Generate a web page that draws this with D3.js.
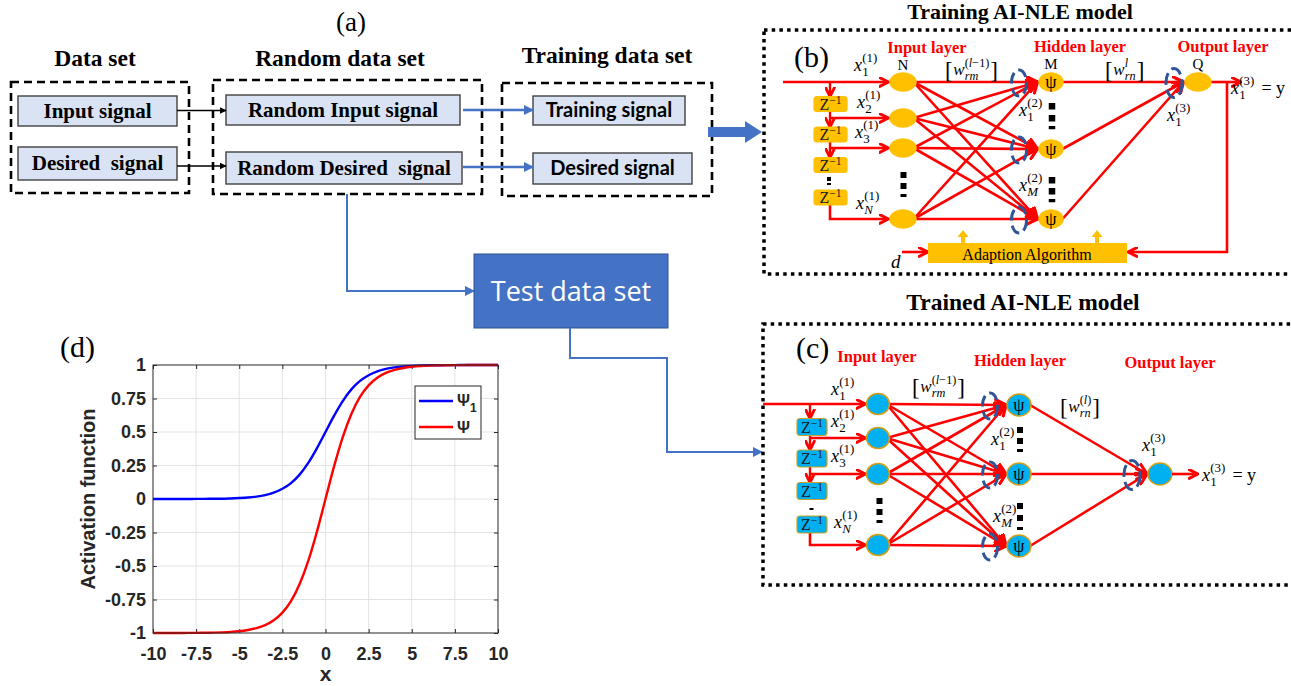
<!DOCTYPE html>
<html>
<head>
<meta charset="utf-8">
<script src="https://cdn.jsdelivr.net/npm/d3@7"></script>
<style>
  body { margin: 0; background: #fff; }
  svg { display: block; }
</style>
</head>
<body>
<script>
// ---- Activation curves, sampled every 0.5 along x ----
const xSamples = [-10, -9.5, -9, -8.5, -8, -7.5, -7, -6.5, -6, -5.5, -5, -4.5, -4, -3.5, -3, -2.5, -2, -1.5, -1, -0.5,
                  0, 0.5, 1, 1.5, 2, 2.5, 3, 3.5, 4, 4.5, 5, 5.5, 6, 6.5, 7, 7.5, 8, 8.5, 9, 9.5, 10];
const psi1Values = [0.000, 0.000, 0.000, 0.000, 0.000, 0.001, 0.001, 0.002, 0.002, 0.004, 0.007, 0.011, 0.018, 0.029, 0.047,
                    0.076, 0.119, 0.182, 0.269, 0.378, 0.500, 0.622, 0.731, 0.818, 0.881, 0.924, 0.953, 0.971, 0.982, 0.989,
                    0.993, 0.996, 0.998, 0.998, 0.999, 0.999, 1.000, 1.000, 1.000, 1.000, 1.000];
const psiValues = [-1.000, -1.000, -1.000, -1.000, -0.999, -0.999, -0.998, -0.997, -0.995, -0.992, -0.987, -0.978, -0.964,
                   -0.941, -0.905, -0.848, -0.762, -0.635, -0.462, -0.245, 0.000, 0.245, 0.462, 0.635, 0.762, 0.848, 0.905,
                   0.941, 0.964, 0.978, 0.987, 0.992, 0.995, 0.997, 0.998, 0.999, 0.999, 1.000, 1.000, 1.000, 1.000];
const xTickValues = [-10, -7.5, -5, -2.5, 0, 2.5, 5, 7.5, 10];
const xTickLabels = ["-10", "-7.5", "-5", "-2.5", "0", "2.5", "5", "7.5", "10"];
const yTickValues = [-1, -0.75, -0.5, -0.25, 0, 0.25, 0.5, 0.75, 1];
const yTickLabels = ["-1", "-0.75", "-0.5", "-0.25", "0", "0.25", "0.5", "0.75", "1"];

const W = 1291, H = 686;
const RED = "#ff0000", ORANGE = "#ffc000", CYAN = "#00b0f0", NAVY = "#2f5597", BLUE = "#4472c4";
const SERIF = "'Liberation Serif','Times New Roman',serif";
const SANS = "'Liberation Sans',Arial,sans-serif";
const CAL = "Lato,'Open Sans',sans-serif";

const svg = d3.select("body").append("svg").attr("width", W).attr("height", H);
svg.append("rect").attr("width", W).attr("height", H).attr("fill", "#fff");
const defs = svg.append("defs");

function chevron(id, color, size, sw) {
  defs.append("marker").attr("id", id).attr("viewBox", "0 0 10 10").attr("refX", 9).attr("refY", 5)
    .attr("markerUnits", "userSpaceOnUse").attr("markerWidth", size).attr("markerHeight", size)
    .attr("orient", "auto")
    .append("path").attr("d", "M1,1 L9,5 L1,9").attr("fill", "none")
    .attr("stroke", color).attr("stroke-width", sw).attr("stroke-linecap", "round").attr("stroke-linejoin", "round");
}
function tri(id, color, size) {
  defs.append("marker").attr("id", id).attr("viewBox", "0 0 10 10").attr("refX", 9).attr("refY", 5)
    .attr("markerUnits", "userSpaceOnUse").attr("markerWidth", size).attr("markerHeight", size)
    .attr("orient", "auto")
    .append("path").attr("d", "M0,0 L10,5 L0,10 Z").attr("fill", color);
}
chevron("chevR", RED, 13, 2.4);
chevron("chevRs", RED, 11, 2.6);
tri("triK", "#000", 7);
tri("triB", BLUE, 10);

const lineGen = d3.line();
function path(g, pts, color, w, marker) {
  const p = g.append("path").attr("d", lineGen(pts)).attr("fill", "none")
    .attr("stroke", color).attr("stroke-width", w).attr("stroke-linejoin", "miter");
  if (marker) p.attr("marker-end", `url(#${marker})`);
  return p;
}
function text(g, x, y, str, size, o = {}) {
  return g.append("text").attr("x", x).attr("y", y).text(str)
    .attr("font-family", o.family || SERIF).attr("font-size", size)
    .attr("font-weight", o.weight || "normal").attr("font-style", o.style || "normal")
    .attr("fill", o.fill || "#000").attr("text-anchor", o.anchor || "start")
    .style("white-space", "pre");
}
// Text where *...* marks italic runs
function rich(g, x, y, str, size) {
  const t = g.append("text").attr("x", x).attr("y", y).attr("font-family", SERIF).attr("font-size", size);
  str.split("*").forEach((s, i) => {
    if (s) t.append("tspan").attr("font-style", i % 2 ? "italic" : "normal").text(s);
  });
  return t;
}
// Symbol with stacked subscript / superscript, optionally bracketed
function sym(g, x, y, o) {
  const s = o.size || 18, small = s * 0.72;
  let cx = x;
  if (o.bracket) {
    const b = text(g, cx, y + 3, "[", s * 1.35, {});
    cx += b.node().getComputedTextLength() + 0.5;
  }
  const base = text(g, cx, y, o.base, s, { style: "italic" });
  cx += base.node().getComputedTextLength() + 0.3;
  let w = 0;
  if (o.sub) { const t = rich(g, cx, y + s * 0.3, o.sub, small); w = Math.max(w, t.node().getComputedTextLength()); }
  if (o.sup) { const t = rich(g, cx, y - s * 0.5, o.sup, small); w = Math.max(w, t.node().getComputedTextLength()); }
  cx += w + 1;
  if (o.bracket) text(g, cx, y + 3, "]", s * 1.35, {});
  if (o.tail) text(g, cx + 6, y, o.tail, s, {});
}
function dots(g, x, ys, s) {
  ys.forEach((y, i) => g.append("rect").attr("x", x - s / 2).attr("y", y)
    .attr("width", s).attr("height", i === ys.length - 1 ? s * 0.5 : s).attr("fill", "#000"));
}
function dottedBox(g, x, y, w, h) {
  g.append("rect").attr("x", x).attr("y", y).attr("width", w).attr("height", h).attr("fill", "none")
    .attr("stroke", "#000").attr("stroke-width", 3.5).attr("stroke-dasharray", "3.5,4.2");
}

// ================= (a) data flow =================
const A = svg.append("g");
text(A, 351, 31, "(a)", 27, { anchor: "middle" });
text(A, 95, 66, "Data set", 23.5, { weight: "bold", anchor: "middle" });
text(A, 340, 66, "Random data set", 23.5, { weight: "bold", anchor: "middle" });
text(A, 607, 63, "Training data set", 23.5, { weight: "bold", anchor: "middle" });

[[11, 82, 178, 111], [213, 80, 269, 114], [502, 83, 210, 113]].forEach(([x, y, w, h]) =>
  A.append("rect").attr("x", x).attr("y", y).attr("width", w).attr("height", h).attr("fill", "none")
    .attr("stroke", "#000").attr("stroke-width", 2.6).attr("stroke-dasharray", "8,5"));

const signalBoxes = [
  { x: 18, y: 96, w: 159, h: 30, t: "Input signal", f: SERIF, s: 21 },
  { x: 18, y: 147, w: 159, h: 33, t: "Desired\u00a0 signal", f: SERIF, s: 21 },
  { x: 226, y: 95, w: 234, h: 30, t: "Random Input signal", f: SERIF, s: 21 },
  { x: 226, y: 152, w: 236, h: 32, t: "Random Desired\u00a0 signal", f: SERIF, s: 21 },
  { x: 533, y: 96, w: 152, h: 29, t: "Training signal", f: CAL, s: 20 },
  { x: 533, y: 153, w: 159, h: 31, t: "Desired signal", f: CAL, s: 20 }
];
signalBoxes.forEach(b => {
  A.append("rect").attr("x", b.x).attr("y", b.y).attr("width", b.w).attr("height", b.h)
    .attr("fill", "#dae3f3").attr("stroke", "#404040").attr("stroke-width", 1.4);
  text(A, b.x + b.w / 2, b.y + b.h / 2 + 6.5, b.t, b.s, { family: b.f, weight: "bold", anchor: "middle" });
});
path(A, [[177, 110.5], [226, 110.5]], "#000", 1.5, "triK");
path(A, [[177, 166], [226, 166]], "#000", 1.5, "triK");
path(A, [[463, 110], [533, 110]], BLUE, 2.5, "triB");
path(A, [[463, 167], [533, 167]], BLUE, 2.5, "triB");
A.append("path").attr("d", "M708,127 L745,127 L745,121 L762,132 L745,143 L745,137 L708,137 Z").attr("fill", BLUE);

path(A, [[347, 194], [347, 291], [474, 291]], BLUE, 2, "triB");
A.append("rect").attr("x", 474).attr("y", 254).attr("width", 194).attr("height", 74)
  .attr("fill", BLUE).attr("stroke", "#2f528f").attr("stroke-width", 1);
text(A, 571, 301, "Test data set", 27, { family: "'Open Sans','Noto Sans',sans-serif", fill: "#fff", anchor: "middle" });
path(A, [[570, 328], [570, 358], [667, 358], [667, 452], [762, 452]], BLUE, 2, "triB");

// ================= network helper =================
function network(g, c) {
  const inLeft = c.inX - c.inRx - 1;
  // input -> hidden
  c.inY.forEach(yi => c.hidY.forEach(yh =>
    path(g, [[c.inX + c.inRx - 3, yi], [c.hidX - c.hidRx - 1, yh]], RED, 2.6, "chevR")));
  // hidden -> output
  c.hidY.forEach(yh => path(g, [[c.hidX + c.hidRx - 1, yh], [c.outX - c.outRx - 1, c.outY]], RED, 2.6, "chevR"));
  // input feed and delay line
  path(g, [[c.startX, c.inY[0]], [inLeft, c.inY[0]]], RED, 2.6, "chevRs");
  const zt = c.zY.map(y => y - c.zH / 2), zb = c.zY.map(y => y + c.zH / 2);
  path(g, [[c.bx, c.inY[0]], [c.bx, zt[0]]], RED, 2.4, "chevRs");
  path(g, [[c.bx, zb[0]], [c.bx, zt[1]]], RED, 2.4, "chevRs");
  path(g, [[c.bx, zb[1]], [c.bx, zt[2]]], RED, 2.4, "chevRs");
  path(g, [[c.bx, c.inY[1]], [inLeft, c.inY[1]]], RED, 2.6, "chevRs");
  path(g, [[c.bx, c.inY[2]], [inLeft, c.inY[2]]], RED, 2.6, "chevRs");
  path(g, [[c.bx, zb[3]], [c.bx, c.inY[3]], [inLeft, c.inY[3]]], RED, 2.6, "chevRs");
  // delay blocks
  c.zY.forEach(y => {
    g.append("rect").attr("x", c.zX).attr("y", y - c.zH / 2).attr("width", c.zW).attr("height", c.zH)
      .attr("rx", 3).attr("fill", c.zFill).attr("stroke", c.zStroke).attr("stroke-width", 1.2);
    const t = g.append("text").attr("x", c.zX + c.zW / 2).attr("y", y + 5.5).attr("text-anchor", "middle")
      .attr("font-family", SERIF).attr("font-size", 16).attr("fill", "#1a1a1a");
    t.append("tspan").text("Z");
    t.append("tspan").attr("font-size", 11.5).attr("dy", -6).text("\u22121");
  });
  // nodes
  const node = (x, y, rx, ry, psi) => {
    g.append("ellipse").attr("cx", x).attr("cy", y).attr("rx", rx).attr("ry", ry)
      .attr("fill", c.nodeFill).attr("stroke", c.nodeStroke).attr("stroke-width", c.nodeSW);
    if (psi) text(g, x, y + 6, "\u03c8", 18, { anchor: "middle" });
  };
  c.inY.forEach(y => node(c.inX, y, c.inRx, c.inRy, false));
  c.hidY.forEach(y => node(c.hidX, y, c.hidRx, c.hidRy, true));
  node(c.outX, c.outY, c.outRx, c.outRy, false);
  // summing junction marks
  c.hidY.forEach(y => g.append("ellipse").attr("cx", c.arcH).attr("cy", y + 1).attr("rx", 7.5).attr("ry", 13)
    .attr("fill", "none").attr("stroke", NAVY).attr("stroke-width", 3).attr("stroke-dasharray", "11,5"));
  g.append("ellipse").attr("cx", c.arcO).attr("cy", c.outY + 1).attr("rx", 8).attr("ry", 14.5)
    .attr("fill", "none").attr("stroke", NAVY).attr("stroke-width", 3).attr("stroke-dasharray", "12,5");
  // output
  path(g, [[c.outX + c.outRx, c.outY], [c.outArrowEnd, c.outY]], RED, 2.6, "chevRs");
}

// ================= (b) training model =================
const B = svg.append("g");
text(B, 1020, 19, "Training AI-NLE model", 22, { weight: "bold", anchor: "middle" });
dottedBox(B, 764, 30, 540, 244);
text(B, 794, 67, "(b)", 30, {});
network(B, {
  startX: 783, bx: 830,
  inX: 903, inY: [82, 118, 148, 219], inRx: 13.5, inRy: 9.5,
  zX: 814, zW: 33, zH: 15, zY: [104, 134.5, 165, 197.5], zFill: ORANGE, zStroke: ORANGE,
  hidX: 1051, hidY: [82, 149, 219], hidRx: 12.5, hidRy: 9.5,
  outX: 1198, outY: 82, outRx: 13.5, outRy: 9.5,
  nodeFill: ORANGE, nodeStroke: ORANGE, nodeSW: 0.5,
  arcH: 1019, arcO: 1174, outArrowEnd: 1241
});
dots(B, 829, [177, 183], 4);
dots(B, 903.5, [172, 183, 194], 6);
dots(B, 1052, [103, 115, 126], 6.5);
dots(B, 1052, [177, 188, 199], 6.5);
// adaptation loop
path(B, [[1227, 82], [1227, 252], [1128, 252]], RED, 2.6, "chevRs");
path(B, [[902, 252], [928, 252]], RED, 2.6, "chevRs");
B.append("rect").attr("x", 928).attr("y", 243).attr("width", 199).attr("height", 20).attr("fill", ORANGE);
text(B, 1027, 259.5, "Adaption Algorithm", 16, { anchor: "middle" });
[963, 1097].forEach(x => B.append("path")
  .attr("d", `M${x - 2},243 L${x - 2},237 L${x - 5.5},237 L${x},230 L${x + 5.5},237 L${x + 2},237 L${x + 2},243 Z`)
  .attr("fill", ORANGE));
text(B, 891, 268, "d", 19, { style: "italic" });
// layer titles
text(B, 927, 53, "Input layer", 16.5, { weight: "bold", fill: RED, anchor: "middle" });
text(B, 1080, 52, "Hidden layer", 16.5, { weight: "bold", fill: RED, anchor: "middle" });
text(B, 1223, 52, "Output layer", 16.5, { weight: "bold", fill: RED, anchor: "middle" });
text(B, 903, 70, "N", 15, { anchor: "middle" });
text(B, 1051, 69, "M", 15, { anchor: "middle" });
text(B, 1198, 69, "Q", 15, { anchor: "middle" });
sym(B, 854, 71, { base: "x", sub: "1", sup: "(1)" });
sym(B, 857, 108, { base: "x", sub: "2", sup: "(1)" });
sym(B, 855, 138, { base: "x", sub: "3", sup: "(1)" });
sym(B, 856, 209, { base: "x", sub: "*N*", sup: "(1)" });
sym(B, 1019, 116, { base: "x", sub: "1", sup: "(2)" });
sym(B, 1019, 191, { base: "x", sub: "*M*", sup: "(2)" });
sym(B, 1167, 121, { base: "x", sub: "1", sup: "(3)" });
sym(B, 1231, 94, { base: "x", sub: "1", sup: "(3)", tail: "= y" });
sym(B, 945, 75, { base: "w", sub: "*rm*", sup: "(*l*\u22121)", bracket: true, size: 17 });
sym(B, 1105, 75, { base: "w", sub: "*rn*", sup: "*l*", bracket: true, size: 17 });

// ================= (c) trained model =================
const C = svg.append("g");
text(C, 1023, 310, "Trained AI-NLE model", 23.5, { weight: "bold", anchor: "middle" });
dottedBox(C, 763, 324, 540, 261);
text(C, 796, 358, "(c)", 30, {});
network(C, {
  startX: 763, bx: 810,
  inX: 878, inY: [404, 438, 474, 545], inRx: 11.5, inRy: 10.5,
  zX: 797, zW: 30, zH: 17, zY: [427, 458.5, 491, 524.5], zFill: CYAN, zStroke: "#c9a227",
  hidX: 1019, hidY: [405, 474, 546], hidRx: 12, hidRy: 11,
  outX: 1160, outY: 474, outRx: 12, outRy: 11,
  nodeFill: CYAN, nodeStroke: "#d4a017", nodeSW: 1.5,
  arcH: 990, arcO: 1132, outArrowEnd: 1198
});
dots(C, 811.5, [508], 4);
dots(C, 879.5, [498, 509, 520], 6);
dots(C, 1020, [427, 438, 449], 6);
dots(C, 1020, [503, 515, 527], 6);
text(C, 877, 362, "Input layer", 16.5, { weight: "bold", fill: RED, anchor: "middle" });
text(C, 1020, 366, "Hidden layer", 16.5, { weight: "bold", fill: RED, anchor: "middle" });
text(C, 1170, 368, "Output layer", 16.5, { weight: "bold", fill: RED, anchor: "middle" });
sym(C, 831, 395, { base: "x", sub: "1", sup: "(1)" });
sym(C, 831, 427, { base: "x", sub: "2", sup: "(1)" });
sym(C, 831, 462, { base: "x", sub: "3", sup: "(1)" });
sym(C, 834, 528, { base: "x", sub: "*N*", sup: "(1)" });
sym(C, 991, 445, { base: "x", sub: "1", sup: "(2)" });
sym(C, 993, 522, { base: "x", sub: "*M*", sup: "(2)" });
sym(C, 1142, 451, { base: "x", sub: "1", sup: "(3)" });
sym(C, 1202, 481, { base: "x", sub: "1", sup: "(3)", tail: "= y" });
sym(C, 912, 392, { base: "w", sub: "*rm*", sup: "(*l*\u22121)", bracket: true, size: 17 });
sym(C, 1060, 412, { base: "w", sub: "*rn*", sup: "(*l*)", bracket: true, size: 17 });

// ================= (d) activation functions =================
const D = svg.append("g");
text(D, 60, 357, "(d)", 30, {});
const xs = d3.scaleLinear().domain([-10, 10]).range([153, 498]);
const ys = d3.scaleLinear().domain([-1, 1]).range([633, 365]);
const axisInk = "#262626";
D.selectAll("line.gx").data(xTickValues.slice(1, -1)).join("line").attr("class", "gx")
  .attr("x1", d => xs(d)).attr("x2", d => xs(d)).attr("y1", ys(-1)).attr("y2", ys(1))
  .attr("stroke", "#e3e3e3").attr("stroke-width", 1);
D.selectAll("line.gy").data(yTickValues.slice(1, -1)).join("line").attr("class", "gy")
  .attr("x1", xs(-10)).attr("x2", xs(10)).attr("y1", d => ys(d)).attr("y2", d => ys(d))
  .attr("stroke", "#e3e3e3").attr("stroke-width", 1);

function styleAxis(sel, showText) {
  sel.select(".domain").remove();
  sel.selectAll(".tick line").attr("stroke", axisInk).attr("stroke-width", 1);
  sel.selectAll(".tick text").attr("font-family", SANS).attr("font-weight", "bold")
    .attr("font-size", 18).attr("fill", axisInk).style("display", showText ? null : "none");
}
D.append("g").attr("transform", `translate(0,${ys(-1)})`)
  .call(d3.axisBottom(xs).tickValues(xTickValues).tickFormat((d, i) => xTickLabels[i])
    .tickSizeInner(-4).tickSizeOuter(0).tickPadding(14))
  .call(s => styleAxis(s, true));
D.append("g").attr("transform", `translate(0,${ys(1)})`)
  .call(d3.axisTop(xs).tickValues(xTickValues).tickSizeInner(-4).tickSizeOuter(0))
  .call(s => styleAxis(s, false));
D.append("g").attr("transform", `translate(${xs(-10)},0)`)
  .call(d3.axisLeft(ys).tickValues(yTickValues).tickFormat((d, i) => yTickLabels[i])
    .tickSizeInner(-4).tickSizeOuter(0).tickPadding(7))
  .call(s => styleAxis(s, true));
D.append("g").attr("transform", `translate(${xs(10)},0)`)
  .call(d3.axisRight(ys).tickValues(yTickValues).tickSizeInner(-4).tickSizeOuter(0))
  .call(s => styleAxis(s, false));

const curve = d3.line().x((d, i) => xs(xSamples[i])).y(d => ys(d)).curve(d3.curveMonotoneX);
D.append("path").attr("d", curve(psi1Values)).attr("fill", "none").attr("stroke", "#0000ff").attr("stroke-width", 2.4);
D.append("path").attr("d", curve(psiValues)).attr("fill", "none").attr("stroke", "#ff0000").attr("stroke-width", 2.4);

D.append("rect").attr("x", xs(-10)).attr("y", ys(1)).attr("width", xs(10) - xs(-10)).attr("height", ys(-1) - ys(1))
  .attr("fill", "none").attr("stroke", axisInk).attr("stroke-width", 1);

text(D, (xs(-10) + xs(10)) / 2, 681, "x", 21, { family: SANS, weight: "bold", anchor: "middle", fill: axisInk });
text(D, 0, 0, "Activation function", 20, { family: SANS, weight: "bold", anchor: "middle", fill: axisInk })
  .attr("transform", `translate(95,${(ys(-1) + ys(1)) / 2}) rotate(-90)`);

// legend
const L = D.append("g");
L.append("rect").attr("x", 415).attr("y", 386).attr("width", 66).attr("height", 53)
  .attr("fill", "#fff").attr("stroke", axisInk).attr("stroke-width", 1);
L.append("line").attr("x1", 419).attr("x2", 453).attr("y1", 401).attr("y2", 401).attr("stroke", "#0000ff").attr("stroke-width", 2.4);
L.append("line").attr("x1", 419).attr("x2", 453).attr("y1", 427).attr("y2", 427).attr("stroke", "#ff0000").attr("stroke-width", 2.4);
const l1 = text(L, 457, 406, "\u03a8", 16, { family: SANS, weight: "bold", fill: axisInk });
l1.append("tspan").attr("font-size", 12).attr("dy", 6).text("1");
text(L, 457, 433, "\u03a8", 16, { family: SANS, weight: "bold", fill: axisInk });
</script>
</body>
</html>
